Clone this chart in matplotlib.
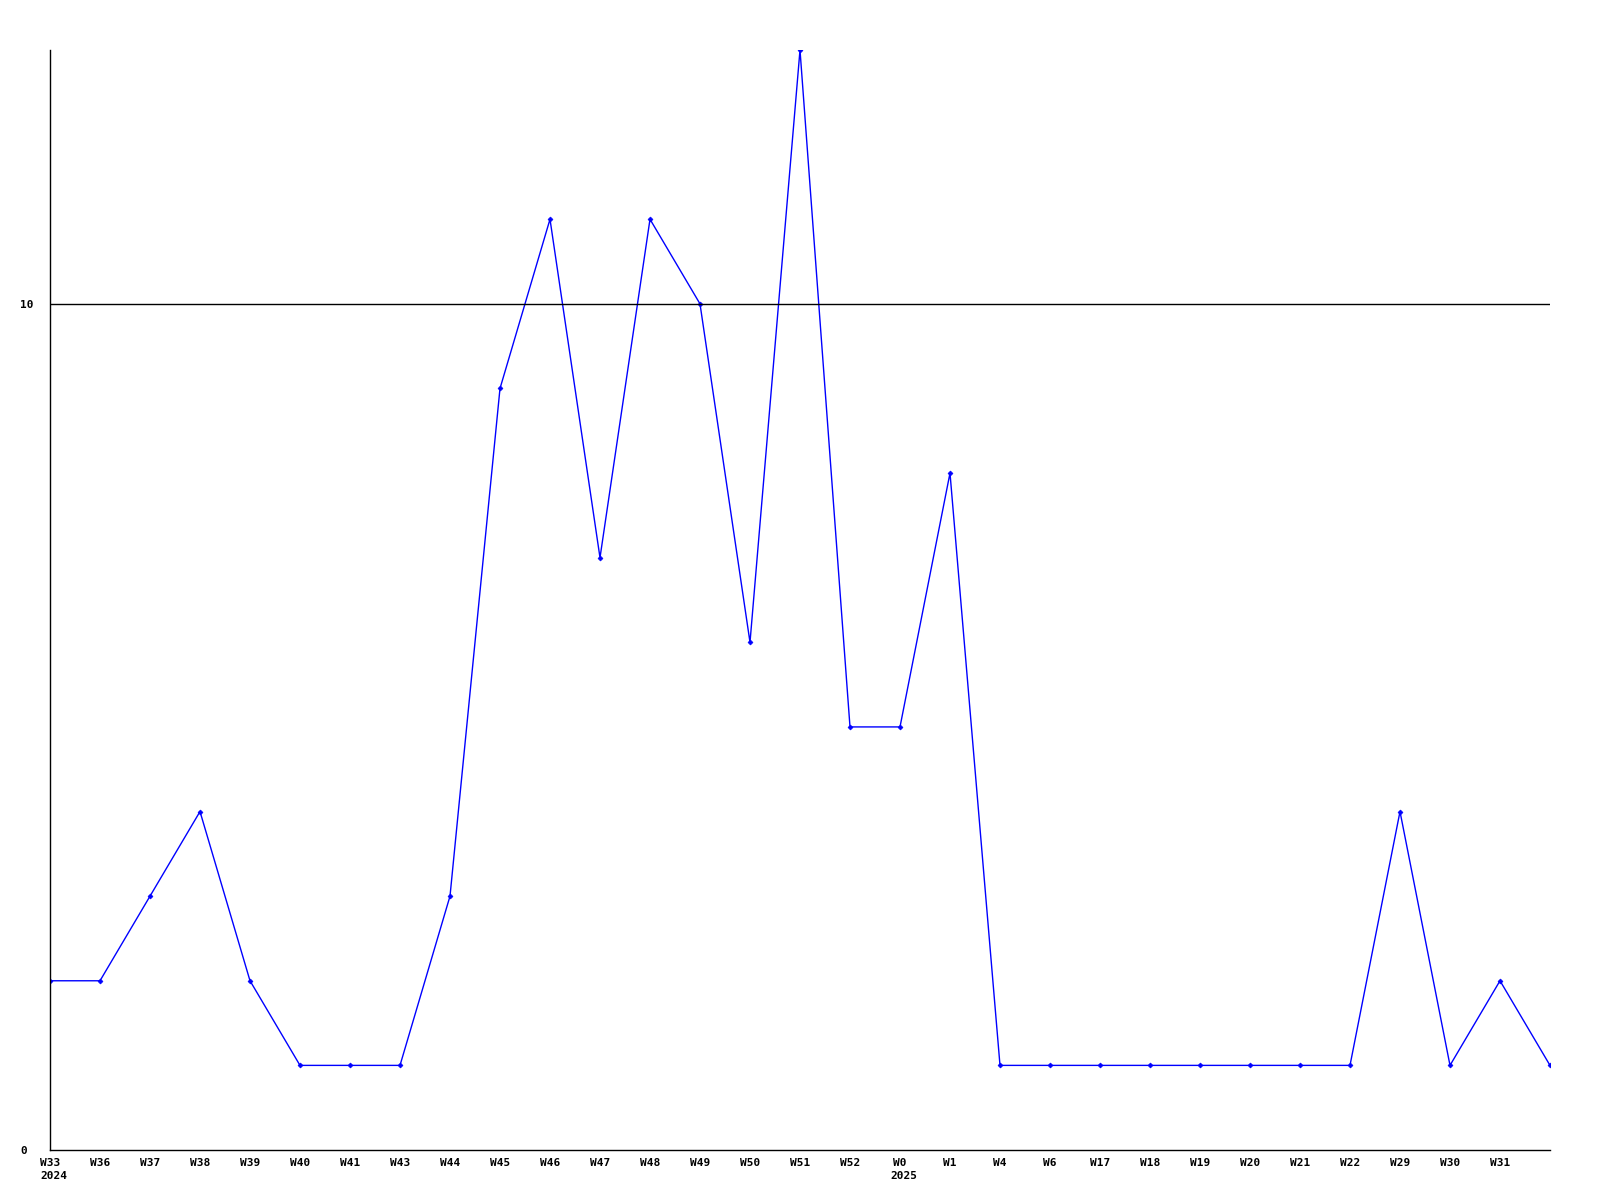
import matplotlib
matplotlib.use("Agg")
import matplotlib.pyplot as plt
import matplotlib.transforms as mtransforms

labels = ["W33", "W36", "W37", "W38", "W39", "W40", "W41", "W43", "W44", "W45",
          "W46", "W47", "W48", "W49", "W50", "W51", "W52", "W0", "W1", "W4",
          "W6", "W17", "W18", "W19", "W20", "W21", "W22", "W29", "W30", "W31", ""]
values = [2, 2, 3, 4, 2, 1, 1, 1, 3, 9,
          11, 7, 11, 10, 6, 13, 5, 5, 8, 1,
          1, 1, 1, 1, 1, 1, 1, 4, 1, 2, 1]
years = {"W33": "2024", "W0": "2025"}
yticks = [0, 10]

fig = plt.figure(figsize=(16, 12), dpi=100)
ax = fig.add_axes([50/1600, 50/1200, 1500/1600, 1100/1200])
x = list(range(len(values)))
ax.plot(x, values, color="#0000ff", lw=1.0, marker="D", ms=2.5, mew=0.5)
ax.set_xlim(0, len(values) - 1)
ax.set_ylim(0, 13)
for s in ["top", "right"]:
    ax.spines[s].set_visible(False)
for s in ["left", "bottom"]:
    ax.spines[s].set_linewidth(1.0)
ax.set_yticks(yticks)
ax.set_yticklabels([str(v) for v in yticks])
ax.set_xticks(x)
ax.set_xticklabels(labels)
ax.tick_params(axis="both", length=0, labelsize=8)
ax.tick_params(axis="x", pad=6)
ax.tick_params(axis="y", pad=21.5)
for lab in ax.get_xticklabels() + ax.get_yticklabels():
    lab.set_fontfamily("DejaVu Sans Mono")
    lab.set_fontweight("bold")
for lab in ax.get_yticklabels():
    lab.set_horizontalalignment("left")
ax.axhline(10, color="black", lw=1.0)

for i, lab in enumerate(labels):
    if lab in years:
        trans = mtransforms.offset_copy(ax.transData, fig=fig, x=-10, y=-21, units="dots")
        ax.text(i, 0, years[lab], transform=trans, ha="left", va="top",
                fontsize=8, fontfamily="DejaVu Sans Mono", fontweight="bold",
                clip_on=False)

fig.savefig("out.png", dpi=100)
